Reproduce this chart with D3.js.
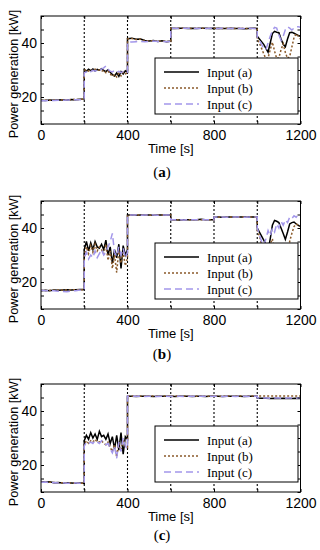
<!DOCTYPE html>
<html>
<head>
<meta charset="utf-8">
<script src="https://cdn.jsdelivr.net/npm/d3@7"></script>
<style>
  body { margin: 0; background: #fff; }
  svg { display: block; }
</style>
</head>
<body>
<div id="chart"></div>
<script>
// segment starts (s); each segment of every series is sampled evenly over 200 s
const segStarts = [0, 200, 400, 600, 800, 1000];
const segLength = 200;

const xTicks = [0, 200, 400, 600, 800, 1000, 1200];
const xLabels = [0, 400, 800, 1200];
const yTicks = [10, 15, 20, 25, 30, 35, 40, 45, 50];
const yLabels = [20, 40];
const legendNames = ['Input (a)', 'Input (b)', 'Input (c)'];
const captions = ['a', 'b', 'c'];

// ---- panel (a)
const panelA_inputA = [
  [18.8, 18.7, 18.9, 18.8, 18.9, 19.0, 18.9, 19.1, 19.0, 19.2, 19.3],
  [30.0, 29.5, 30.3, 29.8, 30.4, 29.6, 30.2, 29.9, 30.5, 29.8, 29.4, 30.1, 29.2, 28.3, 27.8, 28.9, 27.6, 29.4, 28.5, 29.7, 29.3],
  [41.6, 41.8, 41.4, 41.5, 40.9, 40.7, 40.9, 40.6, 40.8, 40.5, 40.7],
  [45.5, 45.4, 45.5, 45.5, 45.4, 45.5, 45.4, 45.5, 45.5, 45.4, 45.5],
  [45.4, 45.5, 45.4, 45.4, 45.5, 45.4, 45.4, 45.3, 45.4, 45.5, 45.4],
  [42.5, 41.5, 40.5, 39.5, 38.0, 36.6, 40.0, 43.5, 44.3, 44.0, 43.8, 41.5, 39.5, 38.6, 41.5, 43.8, 44.0, 43.6, 43.2, 42.8, 42.5],
];
const panelA_inputB = [
  [18.7, 18.8, 18.8, 18.9, 18.8, 19.0, 19.0, 19.0, 19.1, 19.1, 19.2],
  [29.8, 30.2, 29.6, 30.1, 29.7, 30.3, 29.9, 30.0, 29.5, 29.9, 29.0, 29.6, 28.5, 27.6, 28.3, 27.4, 28.8, 27.8, 29.2, 28.6, 29.0],
  [41.5, 41.7, 41.3, 41.4, 40.8, 40.8, 40.8, 40.7, 40.7, 40.6, 40.6],
  [45.4, 45.5, 45.4, 45.5, 45.5, 45.4, 45.5, 45.5, 45.4, 45.5, 45.5],
  [45.5, 45.4, 45.4, 45.5, 45.4, 45.4, 45.5, 45.4, 45.4, 45.4, 45.5],
  [41.5, 40.0, 38.0, 36.0, 34.2, 34.5, 37.5, 40.3, 37.0, 34.2, 34.5, 37.5, 39.7, 36.5, 34.3, 35.0, 38.5, 42.0, 43.4, 42.5, 41.5],
];
const panelA_inputC = [
  [18.6, 18.6, 18.7, 18.7, 18.8, 18.8, 18.9, 18.9, 19.0, 19.0, 19.1],
  [29.0, 29.3, 29.8, 29.4, 29.9, 29.6, 30.0, 29.7, 30.3, 30.8, 31.5, 30.2, 29.6, 29.3, 29.8, 29.2, 29.5, 29.0, 29.4, 29.6, 29.2],
  [40.3, 40.4, 40.5, 40.6, 40.5, 40.6, 40.7, 40.6, 40.6, 40.5, 40.6],
  [45.5, 45.5, 45.4, 45.5, 45.5, 45.5, 45.4, 45.5, 45.4, 45.5, 45.4],
  [45.4, 45.4, 45.5, 45.4, 45.4, 45.5, 45.4, 45.4, 45.5, 45.4, 45.4],
  [42.0, 41.0, 39.5, 38.0, 37.5, 40.0, 42.5, 44.5, 45.8, 45.5, 43.0, 41.0, 42.5, 45.0, 46.0, 45.5, 44.8, 45.5, 46.0, 46.0, 45.8],
];

// ---- panel (b)
const panelB_inputA = [
  [16.8, 16.9, 16.8, 17.0, 16.9, 17.0, 17.1, 17.0, 17.1, 17.2, 17.2],
  [32.0, 35.0, 31.5, 34.5, 32.0, 35.0, 33.0, 32.5, 34.0, 32.0, 35.5, 30.0, 33.0, 27.0, 32.0, 29.0, 34.0, 25.0, 33.5, 30.0, 32.0],
  [44.8, 44.8, 44.7, 44.8, 44.8, 44.8, 44.7, 44.8, 44.8, 44.8, 44.8],
  [43.1, 43.1, 43.0, 43.1, 43.1, 43.1, 43.1, 43.2, 43.1, 43.1, 43.1],
  [44.1, 44.1, 44.0, 44.1, 44.1, 44.1, 44.1, 44.1, 44.2, 44.1, 44.1],
  [40.0, 38.5, 37.0, 35.5, 34.0, 31.5, 36.0, 41.0, 42.8, 42.5, 42.0, 40.0, 38.0, 35.8, 38.5, 41.5, 42.0, 42.2, 41.5, 41.0, 40.5],
];
const panelB_inputB = [
  [16.9, 16.8, 16.9, 16.9, 17.0, 17.0, 17.0, 17.1, 17.1, 17.1, 17.2],
  [30.0, 33.0, 30.5, 33.5, 31.0, 34.0, 31.5, 33.0, 32.0, 30.5, 34.0, 28.0, 31.5, 25.0, 30.0, 23.5, 32.0, 27.0, 31.0, 26.0, 29.0],
  [44.8, 44.7, 44.8, 44.8, 44.8, 44.7, 44.8, 44.8, 44.8, 44.7, 44.8],
  [43.1, 43.0, 43.1, 43.1, 43.1, 43.0, 43.1, 43.1, 43.1, 43.1, 43.1],
  [44.1, 44.0, 44.1, 44.1, 44.1, 44.0, 44.1, 44.1, 44.1, 44.1, 44.1],
  [39.0, 37.0, 34.0, 31.0, 29.3, 31.0, 34.0, 36.0, 32.0, 29.2, 31.0, 33.5, 31.0, 29.0, 31.0, 35.0, 38.0, 40.5, 41.5, 41.0, 40.5],
];
const panelB_inputC = [
  [16.9, 16.8, 16.7, 16.8, 16.6, 16.5, 16.4, 16.6, 16.8, 17.0, 17.1],
  [29.0, 31.0, 28.5, 30.0, 29.0, 31.5, 29.0, 30.5, 32.0, 30.0, 31.0, 33.0, 35.0, 38.0, 31.0, 29.5, 33.0, 30.0, 32.5, 29.0, 31.0],
  [44.8, 44.8, 44.8, 44.7, 44.8, 44.8, 44.8, 44.7, 44.8, 44.8, 44.8],
  [43.1, 43.1, 43.1, 43.0, 43.1, 43.1, 43.1, 43.0, 43.1, 43.1, 43.1],
  [44.1, 44.1, 44.1, 44.0, 44.1, 44.1, 44.1, 44.0, 44.1, 44.1, 44.1],
  [40.0, 37.5, 35.0, 33.5, 36.0, 39.0, 37.0, 40.0, 38.5, 41.5, 40.0, 42.5, 41.0, 43.0, 42.0, 44.0, 43.5, 44.5, 44.0, 45.0, 44.5],
];

// ---- panel (c)
const panelC_inputA = [
  [13.9, 13.6, 13.8, 13.4, 13.5, 13.3, 13.4, 13.3, 13.2, 13.3, 13.2],
  [29.0, 31.0, 29.5, 32.0, 30.0, 31.5, 29.5, 32.5, 30.5, 31.0, 29.5, 31.5, 28.0, 30.5, 26.0, 31.0, 25.5, 32.0, 24.0, 30.5, 29.5],
  [45.5, 45.5, 45.4, 45.5, 45.5, 45.5, 45.4, 45.5, 45.5, 45.5, 45.5],
  [45.5, 45.4, 45.5, 45.5, 45.5, 45.4, 45.5, 45.5, 45.4, 45.5, 45.5],
  [45.5, 45.5, 45.4, 45.5, 45.5, 45.5, 45.5, 45.4, 45.5, 45.5, 45.5],
  [44.8, 44.7, 44.7, 44.6, 44.7, 44.6, 44.7, 44.6, 44.6, 44.7, 44.6],
];
const panelC_inputB = [
  [13.7, 13.6, 13.6, 13.5, 13.4, 13.4, 13.3, 13.3, 13.3, 13.2, 13.2],
  [27.5, 29.0, 28.0, 29.0, 28.5, 29.5, 28.5, 28.5, 29.0, 28.0, 27.5, 28.5, 26.5, 25.0, 27.5, 23.0, 28.0, 25.5, 29.5, 27.0, 26.5],
  [45.6, 45.5, 45.6, 45.5, 45.6, 45.5, 45.6, 45.5, 45.5, 45.6, 45.5],
  [45.5, 45.6, 45.5, 45.5, 45.6, 45.5, 45.5, 45.6, 45.5, 45.5, 45.6],
  [45.6, 45.5, 45.5, 45.6, 45.5, 45.5, 45.6, 45.5, 45.5, 45.6, 45.5],
  [45.6, 45.6, 45.6, 45.6, 45.6, 45.6, 45.6, 45.6, 45.6, 45.6, 45.6],
];
const panelC_inputC = [
  [13.6, 13.7, 13.4, 13.5, 13.3, 13.4, 13.2, 13.3, 13.3, 13.2, 13.2],
  [27.0, 28.5, 28.0, 28.5, 28.0, 29.0, 28.5, 28.0, 29.0, 28.5, 27.5, 28.0, 26.0, 24.5, 27.0, 22.5, 28.5, 25.0, 30.0, 27.0, 26.0],
  [45.5, 45.4, 45.5, 45.5, 45.4, 45.5, 45.5, 45.4, 45.5, 45.5, 45.4],
  [45.4, 45.5, 45.5, 45.4, 45.5, 45.5, 45.4, 45.5, 45.5, 45.4, 45.5],
  [45.5, 45.5, 45.4, 45.5, 45.5, 45.4, 45.5, 45.5, 45.4, 45.5, 45.5],
  [44.9, 44.8, 44.8, 44.7, 44.8, 44.8, 44.7, 44.8, 44.8, 44.7, 44.8],
];

const panels = [
  [panelA_inputA, panelA_inputB, panelA_inputC],
  [panelB_inputA, panelB_inputB, panelB_inputC],
  [panelC_inputA, panelC_inputB, panelC_inputC],
];

const lineStyles = [
  { color: '#000000', dash: null },
  { color: '#8a5a2a', dash: '2,2' },
  { color: '#a397ea', dash: '7,4' },
];

const panelTops = [16, 201, 384];
const captionGap = [53, 50, 48];
const plotH = 108;
const sans = '"Liberation Sans", Arial, sans-serif';
const serif = '"Liberation Serif", "Times New Roman", serif';

const svg = d3.select('#chart').append('svg').attr('width', 320).attr('height', 550);

const x = d3.scaleLinear().domain([0, 1200]).range([41, 300.5]);

const toPoints = (segments) =>
  segments.flatMap((seg, k) =>
    seg.map((v, i) => ({ t: segStarts[k] + (i * segLength) / (seg.length - 1), v })),
  );

panels.forEach((series, p) => {
  const top = panelTops[p];
  const bottom = top + plotH;
  const y = d3.scaleLinear().domain([10, 50]).range([bottom, top]);
  const g = svg.append('g');

  // dotted separators
  g.append('g')
    .selectAll('line')
    .data(segStarts.slice(1))
    .enter()
    .append('line')
    .attr('x1', (d) => x(d))
    .attr('x2', (d) => x(d))
    .attr('y1', top)
    .attr('y2', bottom)
    .attr('stroke', '#000')
    .attr('stroke-width', 1.1)
    .attr('stroke-dasharray', '2,2');

  // data lines
  const line = d3
    .line()
    .x((d) => x(d.t))
    .y((d) => y(d.v));

  series.forEach((s, i) => {
    g.append('path')
      .datum(toPoints(s))
      .attr('fill', 'none')
      .attr('stroke', lineStyles[i].color)
      .attr('stroke-width', 1.5)
      .attr('stroke-dasharray', lineStyles[i].dash)
      .attr('d', line);
  });

  // axes, inward ticks on all four sides
  const xb = g
    .append('g')
    .attr('transform', `translate(0,${bottom})`)
    .call(
      d3
        .axisBottom(x)
        .tickValues(xTicks)
        .tickSize(-3)
        .tickPadding(6)
        .tickFormat((d) => (xLabels.includes(d) ? d : '')),
    );
  const yl = g
    .append('g')
    .attr('transform', `translate(${x(0)},0)`)
    .call(
      d3
        .axisLeft(y)
        .tickValues(yTicks)
        .tickSize(-3)
        .tickPadding(4)
        .tickFormat((d) => (yLabels.includes(d) ? d : '')),
    );
  g.append('g')
    .attr('transform', `translate(${x(1200)},0)`)
    .call(d3.axisRight(y).tickValues(yTicks).tickSize(-3).tickFormat(''));
  g.append('g')
    .attr('transform', `translate(0,${top})`)
    .call(d3.axisTop(x).tickValues(xTicks).tickSize(-3).tickFormat(''));

  g.selectAll('.domain').remove();
  [xb, yl].forEach((a) =>
    a.selectAll('text').style('font-family', sans).style('font-size', '14px').attr('fill', '#000'),
  );

  g.append('rect')
    .attr('x', x(0))
    .attr('y', top)
    .attr('width', x(1200) - x(0))
    .attr('height', plotH)
    .attr('fill', 'none')
    .attr('stroke', '#000')
    .attr('stroke-width', 1);

  // legend
  const lg = g.append('g').attr('transform', `translate(155,${top + 42})`);
  lg.append('rect')
    .attr('width', 143)
    .attr('height', 56)
    .attr('fill', '#fff')
    .attr('stroke', '#000')
    .attr('stroke-width', 1);
  legendNames.forEach((name, i) => {
    const ly = 14 + i * 16;
    lg.append('line')
      .attr('x1', 9)
      .attr('x2', 44)
      .attr('y1', ly)
      .attr('y2', ly)
      .attr('stroke', lineStyles[i].color)
      .attr('stroke-width', 1.5)
      .attr('stroke-dasharray', lineStyles[i].dash);
    lg.append('text')
      .attr('x', 52)
      .attr('y', ly + 4.5)
      .style('font-family', serif)
      .style('font-size', '13px')
      .text(name);
  });

  // axis titles
  g.append('text')
    .attr('x', (x(0) + x(1200)) / 2)
    .attr('y', bottom + 29)
    .style('text-anchor', 'middle')
    .style('font-family', sans)
    .style('font-size', '13px')
    .text('Time [s]');

  g.append('text')
    .attr('transform', `translate(17.5,${top + plotH / 2 + 4}) rotate(-90)`)
    .style('text-anchor', 'middle')
    .style('font-family', sans)
    .style('font-size', '12.7px')
    .text('Power generation [kW]');

  const cap = g
    .append('text')
    .attr('x', 162)
    .attr('y', bottom + captionGap[p])
    .style('text-anchor', 'middle')
    .style('font-family', serif)
    .style('font-size', '15px');
  cap.append('tspan').text('(');
  cap.append('tspan').style('font-weight', 'bold').text(captions[p]);
  cap.append('tspan').text(')');
});
</script>
</body>
</html>
